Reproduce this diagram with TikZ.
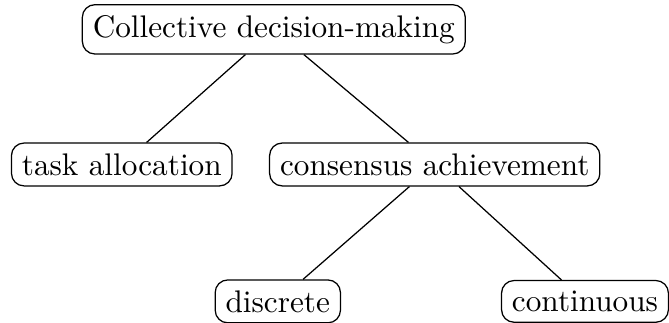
\documentclass[tikz,border=0pt]{standalone}
\usepackage{tikz}
\usetikzlibrary{positioning}
\tikzstyle{decision} = [rectangle, rounded corners, draw, text centered]

\begin{document}
\begin{tikzpicture}
    \useasboundingbox (-3.08,0.33) rectangle (4.445,-3.30);

    % Root node
    \node[decision] (cdm) at (0,0) {Collective decision-making};

    % Second level
    \node[decision] (task) at (-1.71,-1.52) {task allocation};
    \node[decision] (cons) at (1.81,-1.52) {consensus achievement};

    % Third level
    \node[decision] (disc) at (0.045,-3.06) {discrete};
    \node[decision] (cont) at (3.50,-3.06) {continuous};

    % Connections
    \draw (cdm) -- (task);
    \draw (cdm) -- (cons);
    \draw (cons) -- (disc);
    \draw (cons) -- (cont);
\end{tikzpicture}
\end{document}
